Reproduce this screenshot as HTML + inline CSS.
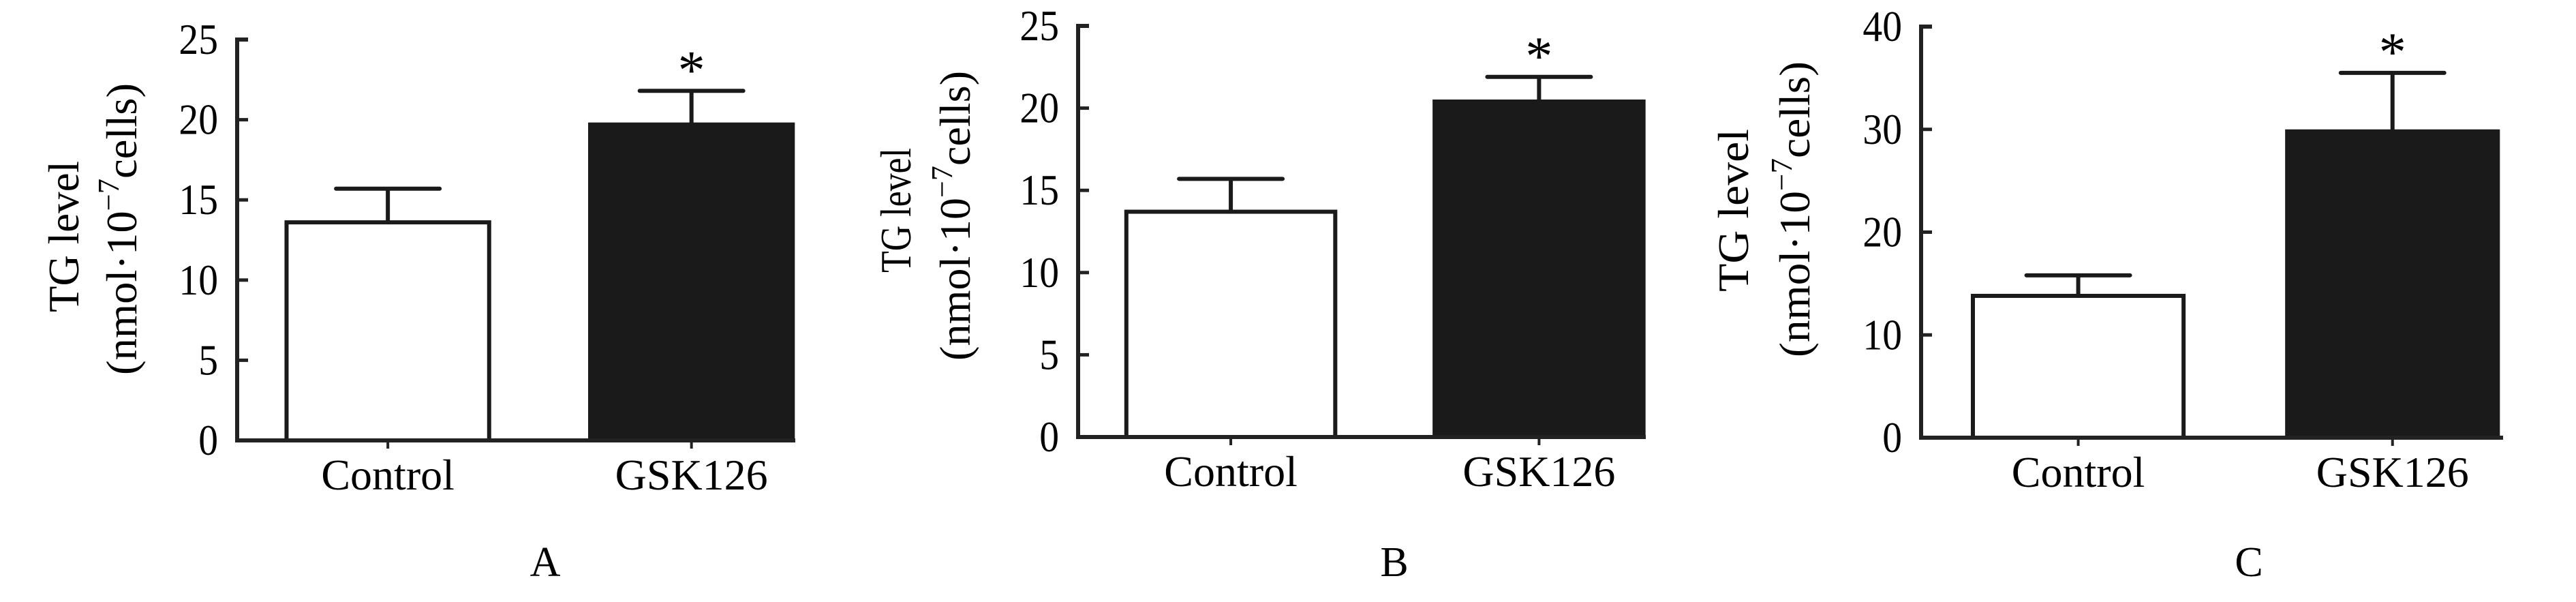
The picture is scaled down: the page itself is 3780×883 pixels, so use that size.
<!DOCTYPE html>
<html><head><meta charset="utf-8"><style>html,body{margin:0;padding:0;background:#fff;}svg{display:block;}svg,svg text{font-family:"Liberation Serif","DejaVu Serif",serif;}</style></head>
<body>
<svg id="fig" width="3780" height="883" viewBox="0 0 3780 883" xmlns="http://www.w3.org/2000/svg"></svg>
<script>
const categories = ["Control", "GSK126"];
const panelLetters = ["A", "B", "C"];
const meansA = [13.6, 19.7];
const errorsA = [2.1, 2.1];
const meansB = [13.7, 20.4];
const errorsB = [2.0, 1.5];
const meansC = [13.8, 29.8];
const errorsC = [2.0, 5.7];
const ticksA = [0, 5, 10, 15, 20, 25];
const ticksB = [0, 5, 10, 15, 20, 25];
const ticksC = [0, 10, 20, 30, 40];
const significant = [false, true];

const NS = "http://www.w3.org/2000/svg";
const svg = document.getElementById('fig');
function mk(tag, attrs, parent){const e=document.createElementNS(NS,tag);for(const k in attrs)e.setAttribute(k,attrs[k]);(parent||svg).appendChild(e);return e;}

const layouts = [
 {left:348,right:1167,top:58,zero:646,t1x:115,t1y:458,t1len:222,t2x:200,t2y:550,t2len:428,letterX:800,fr:[0.270,0.814],bw:0.363},
 {left:1582,right:2415,top:38,zero:641,t1x:1336,t1y:400,t1len:183,t2x:1423,t2y:529,t2len:425,letterX:2046,fr:[0.269,0.812],bw:0.368},
 {left:2819,right:3673,top:39,zero:642,t1x:2565,t1y:428,t1len:239,t2x:2655,t2y:524,t2len:434,letterX:3300,fr:[0.270,0.810],bw:0.362}
];
const allMeans=[meansA,meansB,meansC], allErr=[errorsA,errorsB,errorsC], allTicks=[ticksA,ticksB,ticksC];

layouts.forEach((L,p)=>{
  const g=mk('g',{});
  
  
  const ticks=allTicks[p], maxT=ticks[ticks.length-1];
  const y=v=>L.zero-(L.zero-L.top)*v/maxT;
  const W=L.right-L.left;
  const cx=i=>L.left+W*L.fr[i];
  categories.forEach((c,i)=>{
    const m=allMeans[p][i], e=allErr[p][i], bw=W*L.bw, x0=cx(i)-bw/2;
    const bar=mk('rect',{x:x0,y:y(m),width:bw,height:L.zero-y(m),fill:i===0?'#fff':'#1a1a1a',stroke:'#1a1a1a','stroke-width':6},g);
    
    
    const eb=mk('path',{d:`M${cx(i)},${y(m)}V${y(m+e)}M${cx(i)-76},${y(m+e)}H${cx(i)+76}`,stroke:'#1a1a1a','stroke-width':6,fill:'none','stroke-linecap':'round'},g);
    
    
    if(significant[i]){
      const s=mk('text',{x:cx(i),y:y(m+e)-4,'font-size':80,'text-anchor':'middle'},g);
      s.textContent='*';
      
      
    }
    const lab=mk('text',{x:cx(i),y:L.zero+72,'font-size':64,'text-anchor':'middle'},g);
    lab.textContent=c;
    
    
    const xt=mk('line',{x1:cx(i),x2:cx(i),y1:L.zero,y2:L.zero+12,stroke:'#222','stroke-width':4},g);
    
    
  });
  const ax=mk('path',{d:`M${L.left+16},${L.top}H${L.left}V${L.zero}H${L.right}`,stroke:'#222','stroke-width':6,fill:'none'},g);
  
  
  ticks.forEach(t=>{
    const tl=mk('line',{x1:L.left,x2:L.left+16,y1:y(t),y2:y(t),stroke:'#222','stroke-width':5},g);
    
    
    const tx=mk('text',{x:0,y:0,'font-size':64,'text-anchor':'end',transform:`translate(${L.left-28},${y(t)+21}) scale(0.9,1)`},g);
    tx.textContent=String(t);
    
    
  });
  const t1=mk('text',{x:0,y:0,'font-size':64,transform:`translate(${L.t1x},${L.t1y}) rotate(-90)`,textLength:L.t1len,lengthAdjust:'spacingAndGlyphs'},g);
  t1.textContent='TG level';
  
  
  const t2=mk('text',{x:0,y:0,'font-size':64,transform:`translate(${L.t2x},${L.t2y}) rotate(-90)`,textLength:L.t2len,lengthAdjust:'spacingAndGlyphs'},g);
  t2.innerHTML='(nmol·10<tspan dy="-26" font-size="44">−7</tspan><tspan dy="26">cells)</tspan>';
  
  
  const le=mk('text',{x:L.letterX,y:845,'font-size':62,'text-anchor':'middle'},g);
  le.textContent=panelLetters[p];
  
  
});
</script>
</body></html>
